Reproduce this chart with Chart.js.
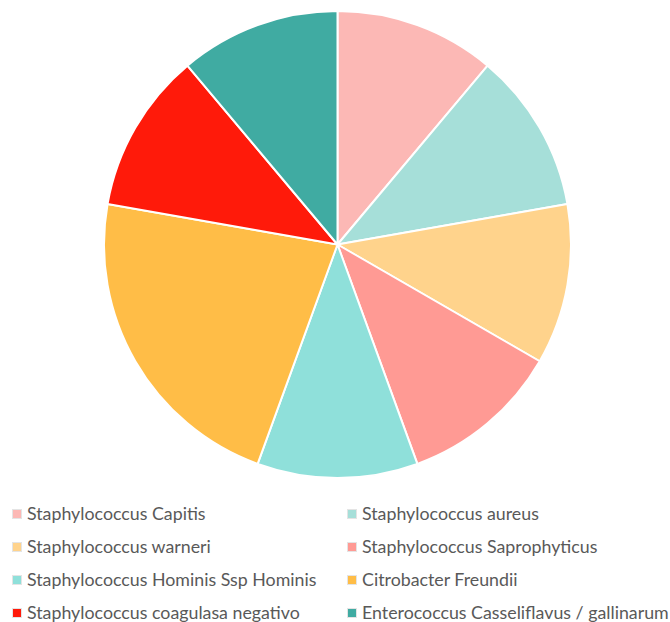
<!DOCTYPE html>
<html>
<head>
<meta charset="utf-8">
<script src="https://cdn.jsdelivr.net/npm/chart.js@4"></script>
<style>
  body { margin: 0; background: #fff; width: 670px; height: 622px; overflow: hidden; position: relative; }
  #wrap { position: absolute; left: 0; top: 0; width: 674px; height: 489px; }
  #legend { position: absolute; left: 0; top: 497px; width: 670px; font-family: Lato, "Liberation Sans", sans-serif; font-size: 17.8px; color: #595959; }
  .item { position: absolute; white-space: nowrap; height: 33px; line-height: 33px; }
  .box { display: inline-block; width: 8px; height: 8px; border: 1px solid #e4e4e4; margin-right: 5px; vertical-align: 1px; }
</style>
</head>
<body>
<div id="wrap"><canvas id="pieChart"></canvas></div>
<div id="legend"></div>
<script>
const labels = [
  "Staphylococcus Capitis",
  "Staphylococcus aureus",
  "Staphylococcus warneri",
  "Staphylococcus Saprophyticus",
  "Staphylococcus Hominis Ssp Hominis",
  "Citrobacter Freundii",
  "Staphylococcus coagulasa negativo",
  "Enterococcus Casseliflavus / gallinarum"
];
const counts = [1, 1, 1, 1, 1, 2, 1, 1];
const colors = ["#FCB8B5", "#A6DFD9", "#FFD38C", "#FF9A94", "#8FE0DA", "#FFBD47", "#FF1A0A", "#40ABA2"];

const canvas = document.getElementById("pieChart");
const chart = new Chart(canvas, {
  type: "pie",
  data: {
    labels,
    datasets: [{ data: counts, backgroundColor: colors, borderColor: "#ffffff", borderWidth: 2 }]
  },
  options: {
    responsive: true,
    maintainAspectRatio: false,
    animation: false,
    radius: 233.5,
    layout: { padding: { left: 1 } },
    plugins: { legend: { display: false }, tooltip: { enabled: false } }
  }
});

// legend: two columns, filled row by row
const legend = document.getElementById("legend");
const colX = [12, 347];
labels.forEach((name, i) => {
  const el = document.createElement("div");
  el.className = "item";
  el.style.left = colX[i % 2] + "px";
  el.style.top = Math.floor(i / 2) * 33 + "px";
  el.innerHTML = `<span class="box" style="background:${colors[i]}"></span>${name}`;
  legend.appendChild(el);
});
</script>
</body>
</html>
